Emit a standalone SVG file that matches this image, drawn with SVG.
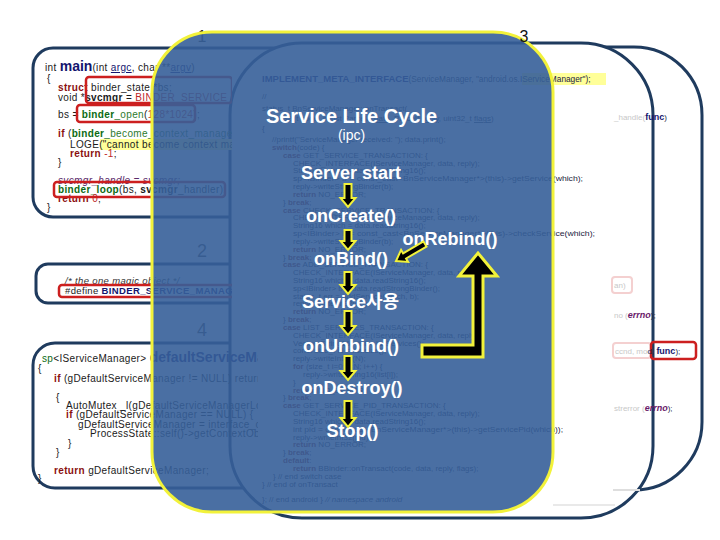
<svg xmlns="http://www.w3.org/2000/svg" width="720" height="540" viewBox="0 0 720 540">
<style>
.pn{fill:#fff;stroke:#1f3b5e;stroke-width:3}
.code{font-family:"Liberation Sans",Arial,sans-serif;font-size:10px;letter-spacing:0.35px;fill:#1a1a1a}
.c3{font-family:"Liberation Sans",Arial,sans-serif;font-size:8px;fill:#1c2440}
.kw{fill:#8b1010;font-weight:bold}
.grn{fill:#0b6b12;font-weight:bold}
.grn2{fill:#2d7a2d}
.mac{fill:#c02828}
.fn{fill:#14146e;font-weight:bold}
.pur{fill:#6a1a6a;font-weight:bold;font-style:italic}
.faint{fill:#c8c8c8}
.rb{fill:none;stroke:#cc1f1f;stroke-width:2.5}
.lbl{font-family:"Liberation Sans","Noto Sans CJK KR",Arial,sans-serif;font-size:18px;font-weight:bold;fill:#fff;text-anchor:middle}
.arr{fill:#000;stroke:#f2f23a;stroke-width:2}
.num{font-family:"Liberation Sans",Arial,sans-serif;font-size:16px;text-anchor:middle}
</style>
<defs>
<clipPath id="cl1"><rect x="0" y="0" width="232" height="540"/></clipPath>
<clipPath id="cl4"><rect x="0" y="0" width="258" height="540"/></clipPath>
</defs>
<rect width="720" height="540" fill="#fff"/>

<g id="panel-3-back">
<rect class="pn" x="420" y="47" width="282" height="443" rx="68"/>
</g>
<g id="panel-1">
<path class="pn" d="M300,48 H53 A20,20 0 0 0 33,68 V197 A20,20 0 0 0 53,217 H300"/>
</g>
<g id="panel-2">
<path class="pn" d="M300,264 H48 A12,12 0 0 0 36,276 V291 A12,12 0 0 0 48,303 H300"/>
</g>
<g id="panel-4">
<path class="pn" d="M300,343 H55 A22,22 0 0 0 33,365 V466 A22,22 0 0 0 55,488 H300"/>
</g>
<g id="panel-3">
<rect class="pn" x="230" y="43" width="423" height="475" rx="72"/>
<rect x="522" y="73" width="84" height="12" fill="#ffff99"/>
<text class="c3" x="262" y="82" style="font-size:8.3px"><tspan class="fn" style="font-size:9.5px">IMPLEMENT_META_INTERFACE</tspan>(ServiceManager, "android.os.IServiceManager");</text>
<text class="c3" x="262" y="99">//</text>
<text class="c3" x="262" y="111">status_t BnServiceManager::onTransact(</text>
<text class="c3" x="270" y="121">uint32_t code, const Parcel&amp; <tspan text-decoration="underline">data</tspan>, Parcel* <tspan text-decoration="underline">reply</tspan>, uint32_t <tspan text-decoration="underline">flags</tspan>)</text>
<text class="c3" x="262" y="131">{</text>
<text class="c3" x="272" y="142">//printf("ServiceManager received: "); data.print();</text>
<text class="c3" x="272" y="150"><tspan class="kw">switch</tspan>(code) {</text>
<text class="c3" x="283" y="158"><tspan class="kw">case</tspan> GET_SERVICE_TRANSACTION: {</text>
<text class="c3" x="293" y="165.5">CHECK_INTERFACE(IServiceManager, data, reply);</text>
<text class="c3" x="293" y="173.3">String16 which = data.readString16();</text>
<text class="c3" x="293" y="181.2" textLength="290" lengthAdjust="spacingAndGlyphs">sp&lt;IBinder&gt; b = const_cast&lt;BnServiceManager*&gt;(this)-&gt;getService(which);</text>
<text class="c3" x="293" y="189">reply-&gt;writeStrongBinder(b);</text>
<text class="c3" x="293" y="196.8"><tspan class="kw">return</tspan> NO_ERROR;</text>
<text class="c3" x="283" y="204.6">} <tspan class="kw">break</tspan>;</text>
<text class="c3" x="283" y="212.5"><tspan class="kw">case</tspan> CHECK_SERVICE_TRANSACTION: {</text>
<text class="c3" x="293" y="220.3">CHECK_INTERFACE(IServiceManager, data, reply);</text>
<text class="c3" x="293" y="228.1">String16 which = data.readString16();</text>
<text class="c3" x="293" y="236" textLength="302" lengthAdjust="spacingAndGlyphs">sp&lt;IBinder&gt; b = const_cast&lt;BnServiceManager*&gt;(this)-&gt;checkService(which);</text>
<text class="c3" x="293" y="243.8">reply-&gt;writeStrongBinder(b);</text>
<text class="c3" x="293" y="251.6"><tspan class="kw">return</tspan> NO_ERROR;</text>
<text class="c3" x="283" y="259.5">} <tspan class="kw">break</tspan>;</text>
<text class="c3" x="283" y="267.3"><tspan class="kw">case</tspan> ADD_SERVICE_TRANSACTION: {</text>
<text class="c3" x="293" y="275.1">CHECK_INTERFACE(IServiceManager, data, reply);</text>
<text class="c3" x="293" y="282.9">String16 which = data.readString16();</text>
<text class="c3" x="293" y="290.8">sp&lt;IBinder&gt; b = data.readStrongBinder();</text>
<text class="c3" x="293" y="298.6">status_t err = addService(which, b);</text>
<text class="c3" x="293" y="306.4">reply-&gt;writeInt32(err);</text>
<text class="c3" x="293" y="314.3"><tspan class="kw">return</tspan> NO_ERROR;</text>
<text class="c3" x="283" y="322.1">} <tspan class="kw">break</tspan>;</text>
<text class="c3" x="283" y="329.9"><tspan class="kw">case</tspan> LIST_SERVICES_TRANSACTION: {</text>
<text class="c3" x="293" y="337.8">CHECK_INTERFACE(IServiceManager, data, reply);</text>
<text class="c3" x="293" y="345.6">Vector&lt;String16&gt; list = listServices();</text>
<text class="c3" x="293" y="353.4">const size_t N = list.size();</text>
<text class="c3" x="293" y="361.2">reply-&gt;writeInt32(N);</text>
<text class="c3" x="293" y="369.1"><tspan class="kw">for</tspan> (size_t i=0; i&lt;N; i++) {</text>
<text class="c3" x="303" y="376.9">reply-&gt;writeString16(list[i]);</text>
<text class="c3" x="293" y="384.7">}</text>
<text class="c3" x="293" y="392.6"><tspan class="kw">return</tspan> NO_ERROR;</text>
<text class="c3" x="283" y="400.4">} <tspan class="kw">break</tspan>;</text>
<text class="c3" x="283" y="408.2"><tspan class="kw">case</tspan> GET_SERVICE_PID_TRANSACTION: {</text>
<text class="c3" x="293" y="416.1">CHECK_INTERFACE(IServiceManager, data, reply);</text>
<text class="c3" x="293" y="423.9">String16 which = data.readString16();</text>
<text class="c3" x="293" y="431.7" textLength="270" lengthAdjust="spacingAndGlyphs">int pid = const_cast&lt;BnServiceManager*&gt;(this)-&gt;getServicePid(which));</text>
<text class="c3" x="293" y="439.5">reply-&gt;writeInt32(pid);</text>
<text class="c3" x="293" y="447.4"><tspan class="kw">return</tspan> NO_ERROR;</text>
<text class="c3" x="283" y="455.2">} <tspan class="kw">break</tspan>;</text>
<text class="c3" x="283" y="463"><tspan class="kw">default</tspan>:</text>
<text class="c3" x="293" y="470.9"><tspan class="kw">return</tspan> BBinder::onTransact(code, data, reply, flags);</text>
<text class="c3" x="273" y="478.7">} // end switch case</text>
<text class="c3" x="262" y="486.5">} // end of onTransact</text>
<text class="c3" x="262" y="502">}; // end android } <tspan font-style="italic">// namespace android</tspan></text>

<rect x="612" y="277" width="20" height="16" rx="3" fill="none" stroke="#f4d0d0" stroke-width="2"/>
<text class="c3 faint" x="614" y="288">an)</text>
<text class="c3" x="614" y="120"><tspan class="faint">_handle(</tspan><tspan class="fn" style="font-size:9px">func</tspan>)</text>
<text class="c3" x="614" y="318"><tspan class="faint">no (</tspan><tspan class="pur" style="font-size:9px">errno</tspan>);</text>
<rect x="613" y="343" width="38" height="15" rx="3" fill="none" stroke="#f4d0d0" stroke-width="2"/>
<rect x="651" y="342" width="45" height="17" rx="3" class="rb"/>
<text class="c3" x="615" y="354"><tspan class="faint">ccnd, mo</tspan>d, <tspan class="fn" style="font-size:9px">func</tspan>);</text>
<text class="c3" x="614" y="411"><tspan class="faint">strerror (</tspan><tspan class="pur" style="font-size:9px">errno</tspan>);</text>
<line x1="613" y1="490" x2="640" y2="490" stroke="#dedede" stroke-width="2"/>
<line x1="553" y1="505" x2="615" y2="505" stroke="#e2e2e2" stroke-width="1.5"/>
</g>

<g id="panel-1-code" clip-path="url(#cl1)">
<rect x="100" y="139" width="140" height="11" fill="#ffff99"/>
<text class="code" x="45" y="71">int <tspan class="fn" style="font-size:14px;letter-spacing:0">main</tspan>(int <tspan text-decoration="underline" fill="#14146e">argc</tspan>, char **<tspan text-decoration="underline" fill="#14146e">argv</tspan>)</text>
<text class="code" x="47" y="82">{</text>
<text class="code" x="58" y="91"><tspan class="kw">struct</tspan> binder_state *bs;</text>
<text class="code" x="58" y="101">void *<tspan font-weight="bold">svcmgr</tspan> = <tspan class="mac">BINDER_SERVICE_MGR</tspan>;</text>
<text class="code" x="58" y="118">bs = <tspan class="grn">binder</tspan><tspan class="grn2">_open</tspan>(<tspan class="mac">128*1024</tspan>);</text>
<text class="code" x="58" y="137"><tspan class="kw">if</tspan> (<tspan class="grn">binder</tspan><tspan class="grn2">_become_context_manager</tspan>(bs)) {</text>
<text class="code" x="70" y="148">LOGE("cannot become context manager\n");</text>
<text class="code" x="70" y="157"><tspan class="kw">return</tspan> <tspan class="mac">-1</tspan>;</text>
<text class="code" x="58" y="166">}</text>
<text class="code" x="58" y="184" style="font-style:italic;fill:#5a2a6a">svcmgr_handle = svcmgr;</text>
<text class="code" x="58" y="193"><tspan class="grn">binder_loop</tspan>(bs, <tspan font-weight="bold">svcmgr</tspan>_handler);</text>
<text class="code" x="58" y="202"><tspan class="kw">return</tspan> <tspan class="mac">0</tspan>;</text>
<text class="code" x="47" y="211">}</text>
<rect class="rb" x="86" y="77" width="146" height="26" rx="3"/>
<rect class="rb" x="77" y="105" width="118" height="17" rx="3"/>
<rect class="rb" x="54" y="182" width="171" height="15" rx="3"/>
</g>

<g id="panel-2-code" clip-path="url(#cl1)">
<text class="code" x="65" y="284" style="font-size:9.5px;font-style:italic;fill:#333">/* the one magic object */</text>
<text class="code" x="65" y="294" style="font-size:9.5px">#define <tspan class="fn">BINDER_SERVICE_MANAGER</tspan> ((void*) 0)</text>
<rect class="rb" x="59" y="285" width="175" height="12" rx="3"/>
</g>

<g id="panel-4-code" clip-path="url(#cl4)">
<text class="code" x="42" y="362"><tspan fill="#0b6b12">sp</tspan>&lt;IServiceManager&gt; <tspan class="fn" style="font-size:14px;letter-spacing:0">defaultServiceManager</tspan>()</text>
<text class="code" x="38" y="372">{</text>
<text class="code" x="54" y="382"><tspan class="kw">if</tspan> (gDefaultServiceManager != NULL) return gDefaultServiceManager;</text>
<text class="code" x="56" y="401">{</text>
<text class="code" x="66" y="409">AutoMutex _l(gDefaultServiceManagerLock);</text>
<text class="code" x="66" y="418"><tspan class="kw">if</tspan> (gDefaultServiceManager == NULL) {</text>
<text class="code" x="78" y="428">gDefaultServiceManager = interface_cast&lt;IServiceManager&gt;(</text>
<text class="code" x="90" y="437">ProcessState::self()-&gt;getContextObject(NULL));</text>
<text class="code" x="68" y="447">}</text>
<text class="code" x="56" y="456">}</text>
<text class="code" x="54" y="474"><tspan class="kw">return</tspan> gDefaultServiceManager;</text>
<text class="code" x="38" y="482">}</text>
</g>

<g id="panel-labels">
<text class="num" x="202" y="42" style="fill:#222">1</text>
<text class="num" x="202" y="257" style="font-size:18px;fill:#444">2</text>
<text class="num" x="202" y="336" style="font-size:18px;fill:#444">4</text>
</g>

<g id="overlay">
<rect x="152" y="32" width="401" height="480" rx="60" fill="#365f99" fill-opacity="0.9" stroke="#f2f23a" stroke-width="3"/>
</g>
<text class="num" x="524" y="42" style="fill:#111">3</text>

<g id="title">
<text class="lbl" x="351.5" y="123" style="font-size:20px">Service Life Cycle</text>
<text class="lbl" x="351.5" y="140" style="font-size:14px;font-weight:normal">(ipc)</text>
</g>
<g id="node-server-start"><text class="lbl" x="351" y="179">Server start</text></g>
<g id="node-oncreate"><text class="lbl" x="351" y="222">onCreate()</text></g>
<g id="node-onrebind"><text class="lbl" x="450" y="245">onRebind()</text></g>
<g id="node-onbind"><text class="lbl" x="351" y="265">onBind()</text></g>
<g id="node-service-use"><text class="lbl" x="350.5" y="308">Service사용</text></g>
<g id="node-onunbind"><text class="lbl" x="351" y="352">onUnbind()</text></g>
<g id="node-ondestroy"><text class="lbl" x="352" y="394">onDestroy()</text></g>
<g id="node-stop"><text class="lbl" x="352.5" y="437">Stop()</text></g>

<g id="connectors">
<path class="arr" d="M344.5,184 H351.5 V198 H355.5 L348,207 L340.5,198 H344.5 Z"/>
<path class="arr" d="M344.5,230 H351.5 V241 H355.5 L348,250 L340.5,241 H344.5 Z"/>
<path class="arr" d="M344.5,272 H351.5 V285 H355.5 L348,294 L340.5,285 H344.5 Z"/>
<path class="arr" d="M344.5,311 H351.5 V326 H355.5 L348,335 L340.5,326 H344.5 Z"/>
<path class="arr" d="M344.5,356 H351.5 V371 H355.5 L348,380 L340.5,371 H344.5 Z"/>
<path class="arr" d="M344.5,401 H351.5 V418 H355.5 L348,427 L340.5,418 H344.5 Z"/>
<path class="arr" d="M423.5,241.4 L426.5,246.6 L406.1,258.5 L408.1,261.9 L396,261 L401.1,249.9 L403.1,253.3 Z"/>
<path class="arr" style="stroke-width:3" d="M422,357 H483 V276 H497 L478,253 L459,276 H473 V345 H422 Z"/>
</g>
</svg>
